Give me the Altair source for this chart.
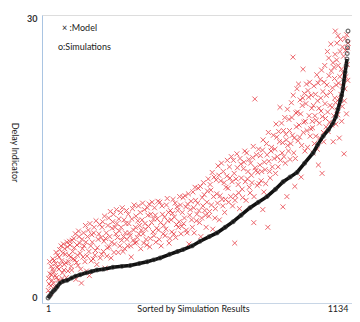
import altair as alt
import pandas as pd

# Simulation results (sorted) : index -> delay indicator
sim_idx = [1, 5, 9, 15, 21, 27, 35, 46, 58, 73, 90, 105, 122, 145, 165, 186, 210, 246, 280, 311,
           345, 375, 400, 424, 460, 490, 511, 545, 575, 610, 639, 670, 700, 730, 764, 795, 828, 860,
           889, 915, 941, 970, 1002, 1020, 1040, 1060, 1077, 1088, 1096, 1105, 1110, 1115, 1119,
           1123, 1127, 1130, 1131, 1132, 1133, 1134]
sim_val = [0.0, 0.15, 0.3, 0.55, 0.75, 0.9, 1.2, 1.6, 1.8, 1.9, 2.15, 2.35, 2.5, 2.7, 2.85, 3.0,
           3.1, 3.3, 3.4, 3.5, 3.7, 3.9, 4.1, 4.3, 4.7, 5.0, 5.2, 5.6, 6.1, 6.6, 7.0, 7.6, 8.2, 8.9,
           9.7, 10.3, 10.9, 11.7, 12.5, 13.0, 13.5, 14.5, 15.6, 16.5, 17.4, 18.1, 18.8, 19.5, 20.3,
           21.2, 21.8, 22.5, 23.4, 24.3, 25.0, 25.7, 26.3, 26.9, 27.6, 28.7]

# Model predictions : (index, delay indicator)
model_pts = [
    (2, 0.8), (5, 1.5), (8, 2.6), (10, 0.5), (13, 3.4), (16, 1.9), (19, 4.2), (22, 2.8), (26, 1.2),
    (29, 3.7), (33, 2.2), (37, 4.6),
    (42, 3.1), (45, 5.2), (48, 1.8), (52, 4.0), (55, 2.7), (59, 5.8), (62, 3.6), (66, 4.7), (70, 2.2),
    (74, 5.5), (78, 3.9), (82, 6.1), (86, 4.4), (90, 3.0), (94, 5.0), (98, 6.4),
    (102, 4.1), (106, 2.0), (110, 5.7), (114, 3.5), (118, 6.6), (122, 4.8), (127, 1.6), (131, 5.3),
    (135, 7.0), (140, 3.9), (144, 6.0), (148, 4.5), (153, 7.3), (157, 2.4), (162, 5.6), (166, 6.8),
    (171, 4.2), (175, 7.6), (180, 5.1), (185, 3.6), (190, 6.3), (196, 7.9),
    (203, 4.7), (207, 8.2), (212, 6.1), (216, 3.2), (221, 7.0), (225, 5.4), (230, 8.6), (234, 6.6),
    (239, 4.3), (243, 7.5), (248, 9.0), (252, 5.8), (257, 6.9), (261, 8.0), (266, 4.9), (270, 7.2),
    (275, 9.2), (279, 6.2), (284, 5.0), (288, 8.4), (293, 7.0), (297, 9.4),
    (302, 5.6), (306, 8.0), (311, 6.7), (315, 4.4), (320, 9.6), (324, 7.3), (329, 5.9), (333, 8.8),
    (338, 6.5), (342, 9.9), (347, 7.8), (351, 5.3), (356, 8.4), (360, 6.9), (365, 9.5), (369, 7.4),
    (374, 5.7), (378, 8.9), (383, 10.1), (387, 6.4), (392, 8.1), (397, 7.1),
    (403, 9.7), (408, 6.0), (413, 8.5), (418, 7.3), (423, 10.3), (428, 5.6), (433, 9.0), (438, 7.8),
    (443, 6.7), (448, 10.0), (453, 8.3), (458, 5.9), (463, 9.4), (468, 7.1), (473, 10.6), (478, 8.7),
    (483, 6.5), (488, 9.8), (493, 7.6), (498, 10.9),
    (503, 6.9), (508, 9.2), (513, 8.0), (518, 11.0), (523, 7.3), (528, 10.1), (533, 5.8), (538, 9.5),
    (543, 8.4), (548, 11.4), (553, 7.0), (558, 10.5), (563, 9.0), (568, 11.8), (573, 8.1), (578, 6.6),
    (583, 10.8), (588, 12.4), (593, 9.4), (598, 7.6),
    (603, 11.5), (608, 8.8), (613, 12.2), (618, 10.0), (623, 7.4), (628, 13.0), (633, 9.6), (638, 11.2),
    (643, 14.2), (648, 8.4), (653, 12.6), (658, 10.6), (663, 13.6), (668, 9.2), (673, 11.9), (678, 14.8),
    (683, 10.3), (688, 12.9), (693, 15.2), (698, 9.9),
    (704, 13.4), (706, 5.9), (709, 11.0), (714, 15.5), (719, 12.2), (724, 9.6), (729, 14.4), (734, 11.7),
    (739, 13.9), (744, 15.8), (749, 10.5), (754, 12.8), (759, 14.9), (764, 11.3), (769, 13.2),
    (774, 15.1), (778, 8.1), (779, 10.9), (782, 21.4), (786, 13.7), (791, 12.1), (796, 16.0),
    (801, 14.3), (806, 12.6), (811, 15.9), (812, 9.5), (816, 11.4), (821, 13.8), (826, 16.6), (831, 7.6),
    (835, 14.7), (840, 12.9), (845, 16.2), (855, 15.0), (860, 13.4), (865, 17.3), (870, 14.1),
    (875, 16.8), (877, 20.5), (885, 15.6), (888, 9.8), (890, 18.0), (897, 14.5), (899, 17.6),
    (903, 10.9), (906, 16.4), (911, 19.2), (915, 14.9), (920, 21.0), (924, 17.5), (926, 25.9),
    (929, 15.6), (933, 12.0), (937, 19.9), (941, 22.5), (945, 16.9), (949, 18.6), (953, 21.3),
    (957, 13.0), (961, 20.7), (964, 24.6), (965, 17.8), (969, 22.0), (973, 19.0), (977, 23.0),
    (981, 16.2), (985, 21.6), (989, 23.2), (993, 18.2), (997, 20.4),
    (1002, 15.6), (1005, 22.8), (1009, 19.6), (1012, 17.4), (1016, 24.0), (1019, 21.2), (1022, 14.3),
    (1026, 18.8), (1029, 23.5), (1032, 20.1), (1036, 13.4), (1039, 22.2), (1042, 16.8), (1046, 25.0),
    (1049, 19.3), (1052, 21.8), (1056, 26.5), (1059, 17.9), (1062, 23.9), (1066, 20.7), (1069, 27.3),
    (1072, 18.6), (1075, 22.6), (1078, 16.8),
    (1081, 24.8), (1084, 21.5), (1086, 28.7), (1088, 18.7), (1091, 25.6), (1093, 20.2), (1096, 28.2),
    (1098, 23.1), (1101, 17.2), (1104, 26.5), (1107, 21.9), (1110, 19.0), (1113, 27.0), (1116, 24.2),
    (1119, 15.5), (1122, 22.5), (1125, 26.6), (1128, 19.8), (1131, 25.1), (1133, 23.4),
    # second pass of points read from the denser parts of the cloud
    (3, 2.1), (7, 3.9), (11, 1.3), (14, 2.5), (18, 3.1), (21, 1.6), (24, 4.0), (28, 2.4), (31, 4.9),
    (35, 3.3), (39, 1.9), (43, 4.4), (47, 3.6), (50, 5.6), (54, 2.1), (57, 4.8), (61, 3.0), (64, 5.3),
    (68, 3.8), (72, 6.0), (76, 2.9), (80, 4.6), (84, 5.7), (88, 3.4), (92, 6.2), (96, 4.2),
    (100, 5.4), (104, 6.9), (108, 3.8), (112, 4.6), (116, 7.2), (120, 5.9), (124, 3.1), (129, 6.3),
    (133, 4.4), (137, 5.6), (142, 7.8), (146, 2.9), (150, 6.6), (155, 5.0), (159, 8.0), (164, 4.0),
    (168, 6.0), (173, 7.0), (178, 4.6), (182, 8.3), (187, 5.4), (193, 6.9), (198, 4.3),
    (201, 6.5), (205, 7.6), (210, 5.0), (214, 8.8), (218, 6.4), (223, 4.5), (227, 7.8), (232, 5.5),
    (236, 9.3), (241, 6.0), (245, 8.2), (250, 4.9), (254, 7.6), (259, 9.5), (263, 6.5), (268, 8.5),
    (272, 5.6), (277, 7.6), (281, 9.7), (286, 6.6), (290, 5.3), (295, 8.0), (299, 6.3),
    (304, 9.0), (308, 7.0), (313, 5.6), (317, 8.5), (322, 6.2), (326, 10.0), (331, 7.6), (335, 6.0),
    (340, 8.3), (344, 6.9), (349, 9.2), (353, 7.3), (358, 10.2), (362, 5.9), (367, 8.0), (371, 6.3),
    (376, 9.7), (380, 7.7), (385, 5.5), (389, 9.0), (394, 10.3), (399, 8.5),
    (401, 6.7), (406, 8.9), (411, 7.5), (416, 10.4), (421, 6.3), (426, 8.1), (431, 9.9), (436, 6.9),
    (441, 8.7), (446, 7.4), (451, 10.7), (456, 9.2), (461, 6.4), (466, 8.4), (471, 9.1), (476, 6.9),
    (481, 10.2), (486, 7.9), (491, 9.4), (496, 8.2),
    (501, 10.0), (506, 7.7), (511, 10.8), (516, 8.6), (521, 9.8), (526, 7.0), (531, 11.2), (536, 8.9),
    (541, 10.4), (546, 7.6), (551, 9.7), (556, 11.9), (561, 8.3), (566, 10.2), (571, 9.4), (576, 12.0),
    (581, 8.6), (586, 9.9), (591, 11.1), (596, 8.9),
    (601, 10.3), (606, 12.8), (611, 9.3), (616, 11.6), (621, 13.5), (626, 10.9), (631, 8.6), (636, 12.7),
    (641, 10.2), (646, 13.2), (651, 11.0), (656, 14.5), (661, 9.9), (666, 12.4), (671, 10.6),
    (676, 13.1), (681, 11.8), (686, 14.1), (691, 10.9), (696, 12.5),
    (701, 14.8), (707, 10.5), (711, 12.8), (716, 14.0), (721, 11.3), (726, 15.0), (731, 12.9),
    (736, 10.8), (741, 14.6), (746, 12.5), (751, 15.6), (756, 13.6), (761, 11.9), (766, 14.5),
    (771, 12.4), (776, 16.3), (783, 14.0), (788, 15.4), (793, 13.5), (798, 12.3),
    (803, 15.3), (808, 13.6), (813, 17.0), (818, 14.6), (823, 12.3), (828, 15.4), (833, 17.8),
    (838, 13.6), (843, 15.8), (848, 14.1), (852, 17.5), (858, 16.0), (862, 18.7), (867, 15.2),
    (872, 17.9), (879, 14.8), (883, 18.8), (887, 16.7), (892, 15.2), (895, 19.4),
    (901, 17.0), (905, 20.3), (909, 15.8), (913, 18.0), (918, 16.6), (922, 19.4), (927, 21.8),
    (931, 17.2), (935, 15.0), (939, 18.4), (943, 20.0), (947, 23.0), (951, 17.3), (955, 19.8),
    (959, 16.4), (963, 21.5), (967, 18.9), (971, 15.8), (975, 20.9), (979, 18.0), (983, 22.3),
    (987, 19.6), (991, 17.4), (995, 21.8), (999, 19.0),
    (1000, 18.3), (1003, 20.7), (1007, 16.6), (1011, 21.9), (1014, 19.1), (1018, 16.0), (1021, 23.1),
    (1024, 20.4), (1027, 17.2), (1031, 21.5), (1034, 24.5), (1037, 19.5), (1041, 17.8), (1044, 23.2),
    (1047, 20.9), (1051, 18.4), (1054, 22.9), (1057, 20.0), (1061, 25.8), (1064, 18.9), (1068, 22.1),
    (1071, 24.4), (1074, 20.5), (1077, 25.3),
    (1080, 19.6), (1083, 23.6), (1085, 26.2), (1087, 21.0), (1090, 22.9), (1092, 27.4), (1095, 19.7),
    (1097, 25.0), (1100, 21.4), (1103, 23.8), (1106, 27.8), (1109, 24.6), (1112, 20.6), (1114, 22.8),
    (1117, 26.0), (1120, 21.2), (1123, 27.9), (1126, 23.8), (1129, 28.3), (1132, 26.9), (1134, 27.4),
]
model_idx = [p[0] for p in model_pts]
model_val = [p[1] for p in model_pts]

x_ticks = [1, 1134]
y_ticks = [0, 30]

model_df = pd.DataFrame({"idx": model_idx, "val": model_val})
sim_df = pd.DataFrame({"idx": sim_idx, "val": sim_val})

FONT = "Lato"
xscale = alt.Scale(domain=[-22, 1149], nice=False, zero=False)
yscale = alt.Scale(domain=[-0.54, 30.43], nice=False, zero=False)

xaxis = alt.Axis(values=x_ticks, format="d", title="Sorted by Simulation Results", grid=False,
                 ticks=False, labelFlush=5, labelOverlap=False, labelPadding=1, labelFontSize=9,
                 labelColor="#222", labelFont=FONT, domainColor="#c8d6e6",
                 titleFont=FONT, titleFontSize=9, titleFontWeight="normal", titleColor="#222",
                 titleY=1, titleBaseline="top", titleX=151)
yaxis = alt.Axis(values=y_ticks, format="d", title="Delay Indicator", grid=False, ticks=False,
                 labelPadding=5, labelFontSize=9, labelFontWeight="bold", labelColor="#333",
                 labelFont=FONT, domainColor="#a9c4e2",
                 titleFont=FONT, titleFontSize=9, titleFontWeight="normal", titleColor="#222",
                 titleAngle=90, titleX=-28, titleY=137, titleAlign="center", titleBaseline="middle")

xshape = "M-1,-1L1,1M1,-1L-1,1"

model = alt.Chart(model_df).mark_point(shape=xshape, filled=False, color="#e5262f", size=24,
                                       strokeWidth=1, opacity=0.7).encode(
    x=alt.X("idx:Q", scale=xscale, axis=xaxis),
    y=alt.Y("val:Q", scale=yscale, axis=yaxis),
)

sim_line = alt.Chart(sim_df).transform_filter("datum.idx <= 1130").mark_line(
    color="#111", strokeWidth=3.5).encode(
    x=alt.X("idx:Q", scale=xscale), y=alt.Y("val:Q", scale=yscale))

sim_pts = alt.Chart(sim_df).mark_point(shape="circle", filled=False, color="#333", size=14,
                                       strokeWidth=1.2).encode(
    x=alt.X("idx:Q", scale=xscale), y=alt.Y("val:Q", scale=yscale))

leg1 = alt.Chart(pd.DataFrame({"t": ["× :Model"]})).mark_text(
    align="left", baseline="middle", font=FONT, fontSize=9, color="#222").encode(
    text="t:N", x=alt.value(20), y=alt.value(13))
leg2 = alt.Chart(pd.DataFrame({"t": ["o:Simulations"]})).mark_text(
    align="left", baseline="middle", font=FONT, fontSize=9, color="#222").encode(
    text="t:N", x=alt.value(16), y=alt.value(32))

chart = alt.layer(model, sim_line, sim_pts, leg1, leg2).properties(
    width=310, height=288,
    autosize=alt.AutoSizeParams(type="none"),
    padding={"left": 34, "top": 7, "right": 0, "bottom": 11},
).configure_view(stroke=None).configure(background="white")

chart.save("out.html", embed_options={"renderer": "svg", "actions": False})
